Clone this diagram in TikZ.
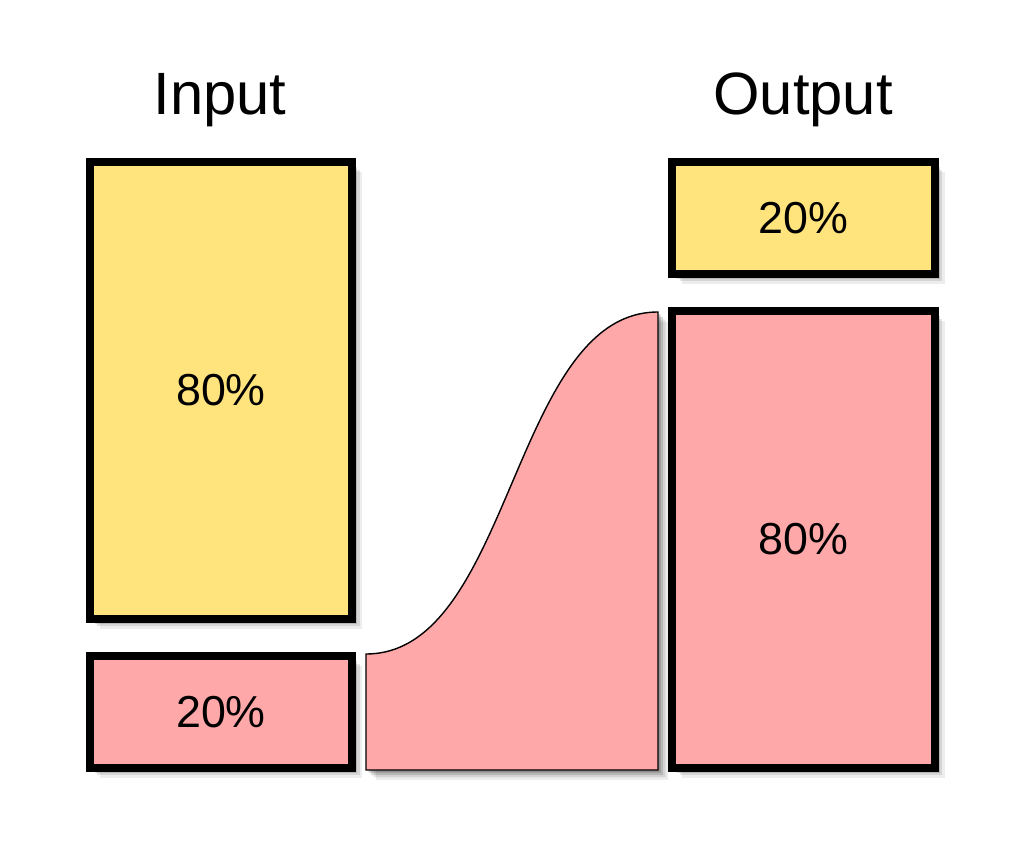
\documentclass[tikz,border=0pt]{standalone}
\usepackage{fontspec}
\setmainfont{Liberation Sans}
\usetikzlibrary{positioning,shadows}

\definecolor{shareyellow}{RGB}{255,228,126}
\definecolor{sharepink}{RGB}{255,168,170}

\tikzset{
  softshadow/.style={
    drop shadow={shadow xshift=0.20cm,shadow yshift=-0.20cm,opacity=0.07,fill=black},
    drop shadow={shadow xshift=0.15cm,shadow yshift=-0.15cm,opacity=0.10,fill=black},
    drop shadow={shadow xshift=0.10cm,shadow yshift=-0.10cm,opacity=0.14,fill=black},
    drop shadow={shadow xshift=0.05cm,shadow yshift=-0.05cm,opacity=0.20,fill=black}},
  sharebox/.style={draw=black,line width=4.5pt,rectangle,minimum width=5.25cm,
    inner sep=0pt,font=\fontsize{25.5}{30}\selectfont,softshadow},
  heading/.style={font=\fontsize{34}{40}\selectfont,anchor=base}
}

\begin{document}
\begin{tikzpicture}[x=0.02cm,y=-0.02cm]
\useasboundingbox (0,0) rectangle (1025,844);

% column titles
\node[heading] (intitle) at (220,115) {Input};
\node[heading] (outtitle) at (803,115) {Output};

% input shares
\node[sharebox,fill=shareyellow,minimum height=9.14cm] (in80) at (221,390.5) {80\%};
\node[sharebox,fill=sharepink,minimum height=2.24cm] (in20) at (221,712) {20\%};

% output shares
\node[sharebox,fill=shareyellow,minimum height=2.24cm] (out20) at (803.5,218) {20\%};
\node[sharebox,fill=sharepink,minimum height=9.14cm] (out80) at (803.5,539.5) {80\%};

% flow from the small input share to the large output share
\coordinate (flowbl) at (366,770);
\coordinate (flowtl) at (366,654);
\coordinate (flowtr) at (658,312);
\coordinate (flowbr) at (658,770);
\draw[fill=sharepink,line width=0.8pt,softshadow] (flowbl) -- (flowtl)
  .. controls (512,654) and (512,312) .. (flowtr) -- (flowbr) -- cycle;

\end{tikzpicture}
\end{document}
